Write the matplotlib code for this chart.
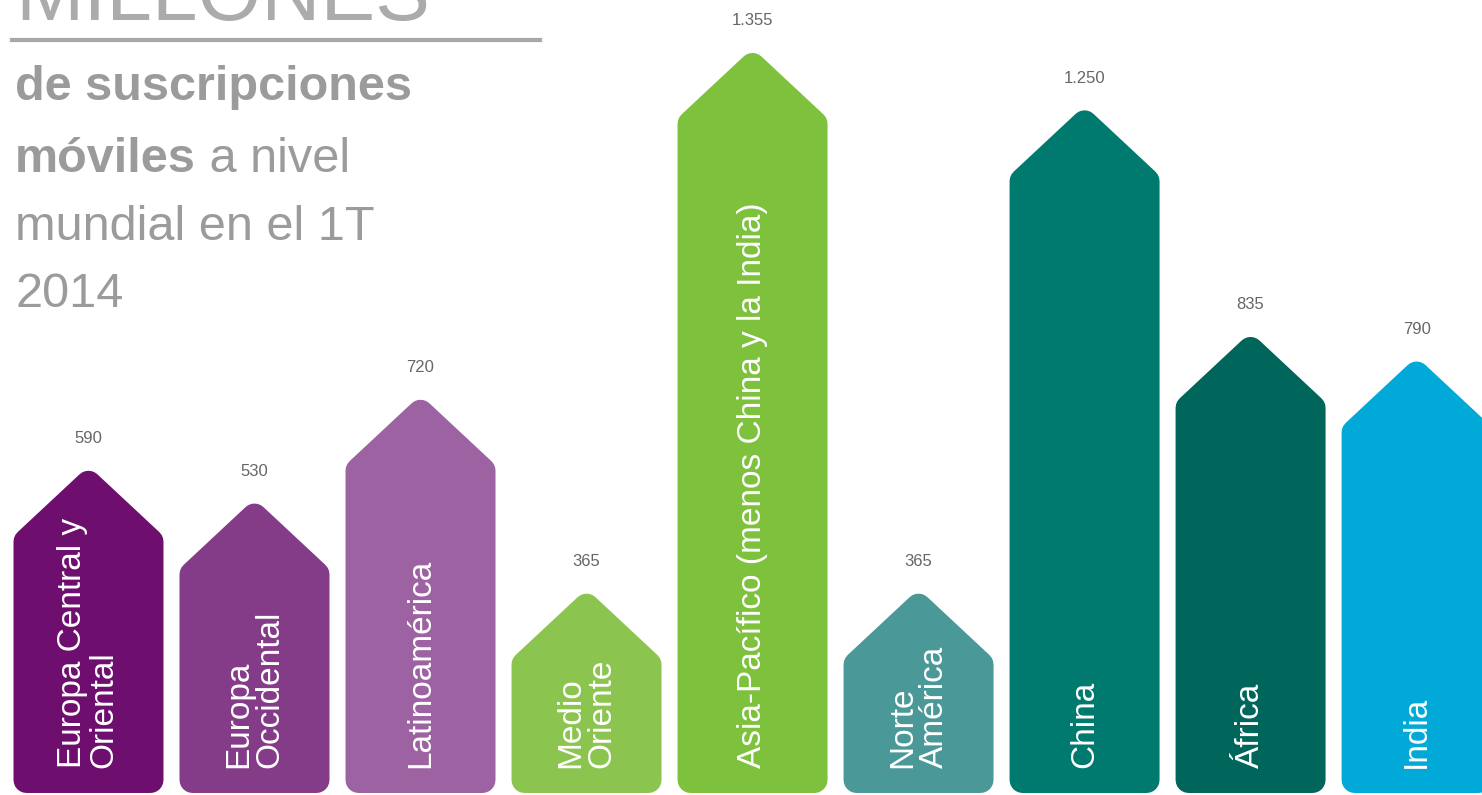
import numpy as np
import matplotlib.pyplot as plt
from matplotlib.patches import Polygon
from matplotlib.lines import Line2D

plt.rcParams['font.family'] = ['Liberation Sans', 'DejaVu Sans']

# Datos (millones de suscripciones, 1T 2014)
regiones = ['Europa Central y\nOriental', 'Europa\nOccidental', 'Latinoamérica',
            'Medio\nOriente', 'Asia-Pacífico (menos China y la India)', 'Norte\nAmérica',
            'China', 'África', 'India']
suscripciones = [590, 530, 720, 365, 1355, 365, 1250, 835, 790]
etiquetas = ['590', '530', '720', '365', '1.355', '365', '1.250', '835', '790']
colores = ['#6e0f6f', '#843b88', '#9c62a1', '#8cc450', '#7dc13c',
           '#4b9898', '#00796f', '#00665b', '#00a9d7']

W, H = 1482, 795
fig = plt.figure(figsize=(W / 100, H / 100), dpi=100)
ax = fig.add_axes([0, 0, 1, 1])
x0, x1 = -0.533, 8.394
y0, y1 = -3.7, 1452
ax.set_xlim(x0, x1)
ax.set_ylim(y0, y1)
ax.axis('off')

# tamaño de un pixel en unidades de datos
px_x = (x1 - x0) / W
px_y = (y1 - y0) / H

r = 13        # radio de esquinas (px)
ancho = 150   # ancho de la barra (px)
techo = 70    # alto del tejado (px)

for i, (v, col) in enumerate(zip(suscripciones, colores)):
    half = (ancho / 2 - r) * px_x
    yb = r * px_y
    ypk = v - r * px_y
    ysh = v - (r + techo * (ancho / 2 - r) / (ancho / 2)) * px_y
    verts = [(i - half, yb), (i - half, ysh), (i, ypk), (i + half, ysh), (i + half, yb)]
    p = Polygon(verts, closed=True, fc=col, ec=col, lw=2 * r * 0.72, joinstyle='round')
    ax.add_patch(p)
    ax.text(i, 46, regiones[i], rotation=90, rotation_mode='anchor', ha='left', va='center',
            color='white', fontsize=24, linespacing=1.0, multialignment='left')
    ax.text(i, v + 32 * px_y, etiquetas[i], ha='center', va='center',
            fontsize=12, color='#666666')

# Título
gris = '#9b9b9b'
fig.text(15 / W, 1 - 20 / H, 'MILLONES', fontsize=59, color='#ababab', va='baseline', ha='left')
fig.add_artist(Line2D([12 / W, 540 / W], [1 - 40 / H, 1 - 40 / H], color='#a8a8a8', lw=3))

fig.text(15 / W, 1 - 100 / H, 'de suscripciones', fontsize=35, fontweight='bold',
         color=gris, va='baseline', ha='left')
t = fig.text(15 / W, 1 - 172 / H, 'móviles', fontsize=35, fontweight='bold',
             color=gris, va='baseline', ha='left')
ax.annotate(' a nivel', xy=(1, 0), xycoords=t, va='bottom', ha='left',
            fontsize=35, color=gris)
fig.text(15 / W, 1 - 240 / H, 'mundial en el 1T', fontsize=35, color=gris,
         va='baseline', ha='left')
fig.text(15 / W, 1 - 307 / H, '2014', fontsize=35, color=gris, va='baseline', ha='left')

fig.savefig('out.png', dpi=100, facecolor='white')
